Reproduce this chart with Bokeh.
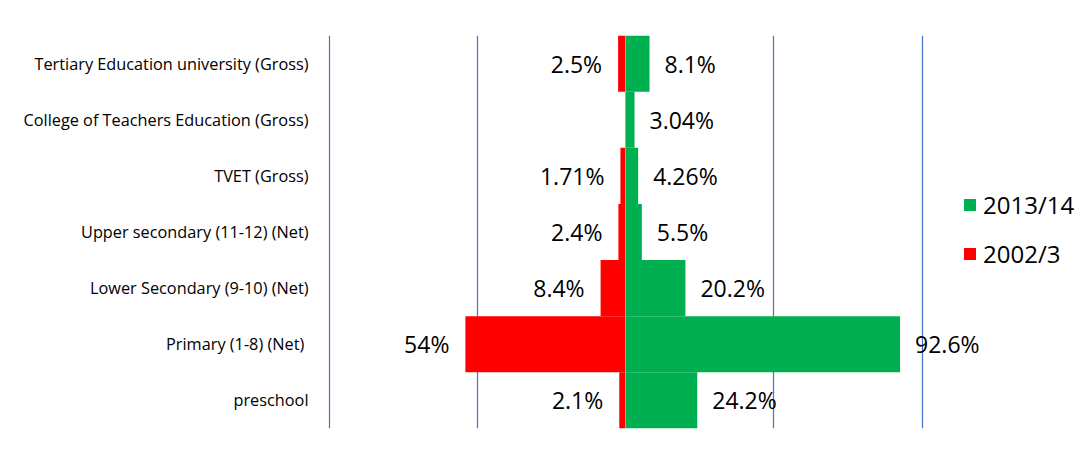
from bokeh.plotting import figure
from bokeh.models import FactorRange, Range1d, FixedTicker, Span, Legend, LegendItem, ColumnDataSource
from bokeh.core.properties import value
from bokeh.embed import file_html
from bokeh.resources import INLINE

# ---- data (top to bottom as shown) ----
categories = [
    "Tertiary Education university (Gross)",
    "College of Teachers Education (Gross)",
    "TVET (Gross)",
    "Upper secondary (11-12) (Net)",
    "Lower Secondary (9-10) (Net)",
    "Primary (1-8) (Net) ",
    "preschool",
]
values_2013 = [8.1, 3.04, 4.26, 5.5, 20.2, 92.6, 24.2]
values_2002 = [2.5, None, 1.71, 2.4, 8.4, 54, 2.1]
series_names = ["2013/14", "2002/3"]
grid_ticks = [-100, -50, 50, 100]

GREEN = "#00B050"
RED = "#FF0000"
FONT = "Open Sans"

green_src = ColumnDataSource(dict(
    cat=categories,
    v=values_2013,
    lab=[f"{v:g}%" for v in values_2013],
))
red_cats = [c for c, v in zip(categories, values_2002) if v is not None]
red_vals = [v for v in values_2002 if v is not None]
red_src = ColumnDataSource(dict(
    cat=red_cats,
    neg=[-v for v in red_vals],
    lab=[f"{v:g}%" for v in red_vals],
))

p = figure(
    width=1092, height=456,
    y_range=FactorRange(factors=categories[::-1], range_padding=0),
    x_range=Range1d(-102.87, 157.5),
    output_backend="svg", toolbar_location=None,
    min_border_left=320, min_border_right=0,
    min_border_top=35, min_border_bottom=28,
)
p.outline_line_color = None
p.background_fill_color = "white"
p.border_fill_color = "white"

p.xaxis.visible = False
p.ygrid.visible = False
p.xgrid.ticker = FixedTicker(ticks=grid_ticks)
p.xgrid.grid_line_color = "#4472C4"
p.xgrid.grid_line_width = 1.2

ax = p.yaxis[0]
ax.axis_line_color = None
ax.major_tick_line_color = None
ax.minor_tick_line_color = None
ax.major_label_standoff = 6
ax.major_label_text_font = FONT
ax.major_label_text_font_size = "16.3px"
ax.major_label_text_color = "#000000"

g = p.hbar(y="cat", left=0, right="v", height=1.0, source=green_src,
           fill_color=GREEN, line_color=None)
r = p.hbar(y="cat", left="neg", right=0, height=1.0, source=red_src,
           fill_color=RED, line_color=None)

p.add_layout(Span(location=0, dimension="height", line_color="#A6A6A6", line_width=1))

p.text(x="v", y="cat", text="lab", source=green_src, x_offset=15,
       text_align="left", text_baseline="middle",
       text_font=value(FONT), text_font_size="23px", text_color="#000000")
p.text(x="neg", y="cat", text="lab", source=red_src, x_offset=-16,
       text_align="right", text_baseline="middle",
       text_font=value(FONT), text_font_size="23px", text_color="#000000")

legend = Legend(
    items=[LegendItem(label=series_names[0], renderers=[g]),
           LegendItem(label=series_names[1], renderers=[r])],
    location=(642, 158),
    orientation="vertical",
    glyph_width=15, glyph_height=15,
    label_height=24, spacing=16, label_standoff=6,
    padding=0, margin=0,
    border_line_color=None, background_fill_alpha=0,
    label_text_font=FONT, label_text_font_size="24px", label_text_color="#000000",
)
p.add_layout(legend)

open("out.html", "w").write(file_html(p, INLINE))
